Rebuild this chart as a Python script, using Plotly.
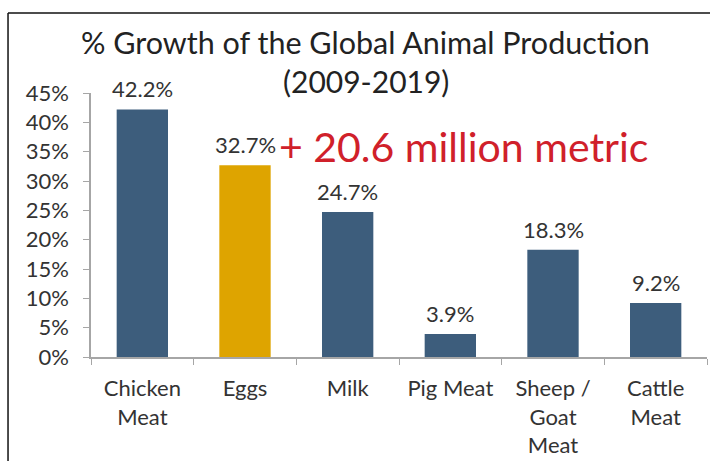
import plotly.graph_objects as go

categories = ["Chicken<br>Meat", "Eggs", "Milk", "Pig Meat", "Sheep /<br>Goat<br>Meat", "Cattle<br>Meat"]
values = [42.2, 32.7, 24.7, 3.9, 18.3, 9.2]
labels = ["42.2%", "32.7%", "24.7%", "3.9%", "18.3%", "9.2%"]
bar_colors = ["#3d5d7c", "#dea400", "#3d5d7c", "#3d5d7c", "#3d5d7c", "#3d5d7c"]
tick_vals = [0, 5, 10, 15, 20, 25, 30, 35, 40, 45]
tick_text = ["0%", "5%", "10%", "15%", "20%", "25%", "30%", "35%", "40%", "45%"]
title_lines = ["% Growth of the Global Animal Production", "(2009-2019)"]
callout = "+ 20.6 million metric"

FONT = "Lato"
TXT = "#333333"
fig = go.Figure()
fig.add_trace(go.Bar(
    x=categories, y=values,
    marker=dict(color=bar_colors, line=dict(width=0)),
    hoverinfo="skip",
))

for c, v, t in zip(categories, values, labels):
    fig.add_annotation(x=c, y=v, text=t, showarrow=False, yanchor="bottom", yshift=5,
                       font=dict(family=FONT, size=22, color=TXT))

# title lines
fig.add_annotation(xref="paper", yref="paper", x=0.4464, y=1.195, text=title_lines[0],
                   showarrow=False, xanchor="center", yanchor="middle",
                   font=dict(family=FONT, size=30.5, color="#222222"))
fig.add_annotation(xref="paper", yref="paper", x=0.4464, y=1.047, text=title_lines[1],
                   showarrow=False, xanchor="center", yanchor="middle",
                   font=dict(family=FONT, size=30, color="#222222"))

fig.add_annotation(xref="paper", yref="paper", x=0.604, y=0.797,
                   text=callout, showarrow=False,
                   xanchor="center", yanchor="middle",
                   font=dict(family=FONT, size=41, color="#d0202a"))

# frame lines (top and left)
fig.add_shape(type="line", xref="paper", yref="paper", x0=-0.1347, x1=1.1, y0=1.303, y1=1.303,
              line=dict(color="#111111", width=1.5))
fig.add_shape(type="line", xref="paper", yref="paper", x0=-0.1347, x1=-0.1347, y0=-0.5, y1=1.303,
              line=dict(color="#111111", width=1.5))

fig.update_layout(
    width=710, height=461,
    margin=dict(l=91, r=3, t=93, b=104),
    paper_bgcolor="white", plot_bgcolor="white",
    bargap=0.5,
    showlegend=False,
    xaxis=dict(type="category", showline=True, linecolor="#a6a6a6", linewidth=1.5,
               ticks="outside", tickson="boundaries", ticklen=6, tickcolor="#a6a6a6",
               ticklabelstandoff=11,
               tickfont=dict(family=FONT, size=22, color=TXT), showgrid=False),
    yaxis=dict(range=[0, 45], tickvals=tick_vals, ticktext=tick_text,
               showline=True, linecolor="#a6a6a6", linewidth=1.5,
               ticks="outside", ticklen=6, tickcolor="#a6a6a6",
               ticklabelstandoff=10,
               tickfont=dict(family=FONT, size=22, color=TXT),
               showgrid=False, zeroline=False),
)

fig.write_html("out.html", config={"displayModeBar": False},
               post_script="document.body.style.margin='0';")
